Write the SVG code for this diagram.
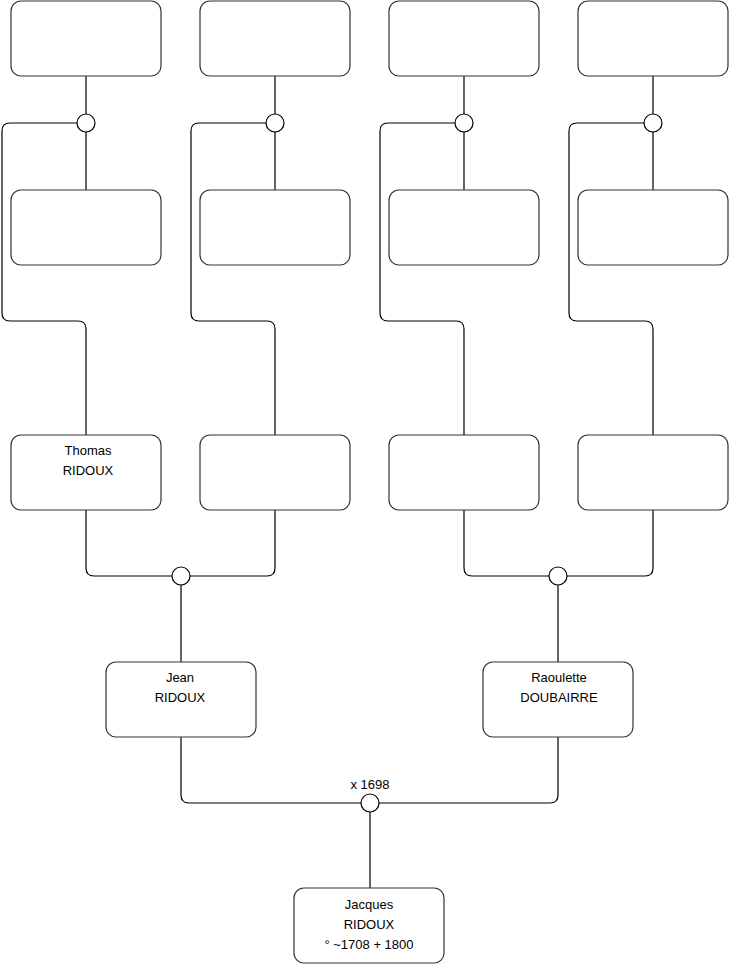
<svg xmlns="http://www.w3.org/2000/svg" width="740" height="975" viewBox="0 0 740 975">
<style>
.box{fill:#fff;stroke:#333;stroke-width:1.2}
.c{fill:none;stroke:#000;stroke-width:1.2}
.dot{fill:#fff;stroke:#000;stroke-width:1.2}
text{font-family:"Liberation Sans",Arial,sans-serif;font-size:13px;fill:#000;text-anchor:middle}
</style>
<rect width="740" height="975" fill="#fff"/>
<g id="connectors">
<path class="c" d="M86,76 V114 M86,132 V190 M77,123 H10 Q2,123 2,131 V313 Q2,321 10,321 H78 Q86,321 86,329 V435"/>
<path class="c" d="M275,76 V114 M275,132 V190 M266,123 H199 Q191,123 191,131 V313 Q191,321 199,321 H267 Q275,321 275,329 V435"/>
<path class="c" d="M464,76 V114 M464,132 V190 M455,123 H388 Q380,123 380,131 V313 Q380,321 388,321 H456 Q464,321 464,329 V435"/>
<path class="c" d="M653,76 V114 M653,132 V190 M644,123 H577 Q569,123 569,131 V313 Q569,321 577,321 H645 Q653,321 653,329 V435"/>
<path class="c" d="M86,510 V568 Q86,576 94,576 H172 M275,510 V568 Q275,576 267,576 H190 M181,585 V662"/>
<path class="c" d="M464,510 V568 Q464,576 472,576 H549 M653,510 V568 Q653,576 645,576 H567 M558,585 V662"/>
<path class="c" d="M181,737 V795 Q181,803 189,803 H361 M558,737 V795 Q558,803 550,803 H379 M370,812 V888"/>
<circle class="dot" cx="86" cy="123" r="9"/>
<circle class="dot" cx="275" cy="123" r="9"/>
<circle class="dot" cx="464" cy="123" r="9"/>
<circle class="dot" cx="653" cy="123" r="9"/>
<circle class="dot" cx="181" cy="576" r="9"/>
<circle class="dot" cx="558" cy="576" r="9"/>
<circle class="dot" cx="370" cy="803" r="9"/>
<text x="370" y="789">x 1698</text>
</g>
<g id="n1"><rect class="box" x="11" y="1" width="150" height="75" rx="10"/></g>
<g id="n2"><rect class="box" x="200" y="1" width="150" height="75" rx="10"/></g>
<g id="n3"><rect class="box" x="389" y="1" width="150" height="75" rx="10"/></g>
<g id="n4"><rect class="box" x="578" y="1" width="150" height="75" rx="10"/></g>
<g id="n5"><rect class="box" x="11" y="190" width="150" height="75" rx="10"/></g>
<g id="n6"><rect class="box" x="200" y="190" width="150" height="75" rx="10"/></g>
<g id="n7"><rect class="box" x="389" y="190" width="150" height="75" rx="10"/></g>
<g id="n8"><rect class="box" x="578" y="190" width="150" height="75" rx="10"/></g>
<g id="thomas"><rect class="box" x="11" y="435" width="150" height="75" rx="10"/><text x="88" y="455">Thomas</text><text x="88" y="475">RIDOUX</text></g>
<g id="n10"><rect class="box" x="200" y="435" width="150" height="75" rx="10"/></g>
<g id="n11"><rect class="box" x="389" y="435" width="150" height="75" rx="10"/></g>
<g id="n12"><rect class="box" x="578" y="435" width="150" height="75" rx="10"/></g>
<g id="jean"><rect class="box" x="106" y="662" width="150" height="75" rx="10"/><text x="180" y="682">Jean</text><text x="180" y="702">RIDOUX</text></g>
<g id="raoulette"><rect class="box" x="483" y="662" width="150" height="75" rx="10"/><text x="559" y="682">Raoulette</text><text x="559" y="702">DOUBAIRRE</text></g>
<g id="jacques"><rect class="box" x="294" y="888" width="150" height="75" rx="10"/><text x="369" y="909">Jacques</text><text x="369" y="929">RIDOUX</text><text x="369" y="949">° ~1708 + 1800</text></g>
</svg>
